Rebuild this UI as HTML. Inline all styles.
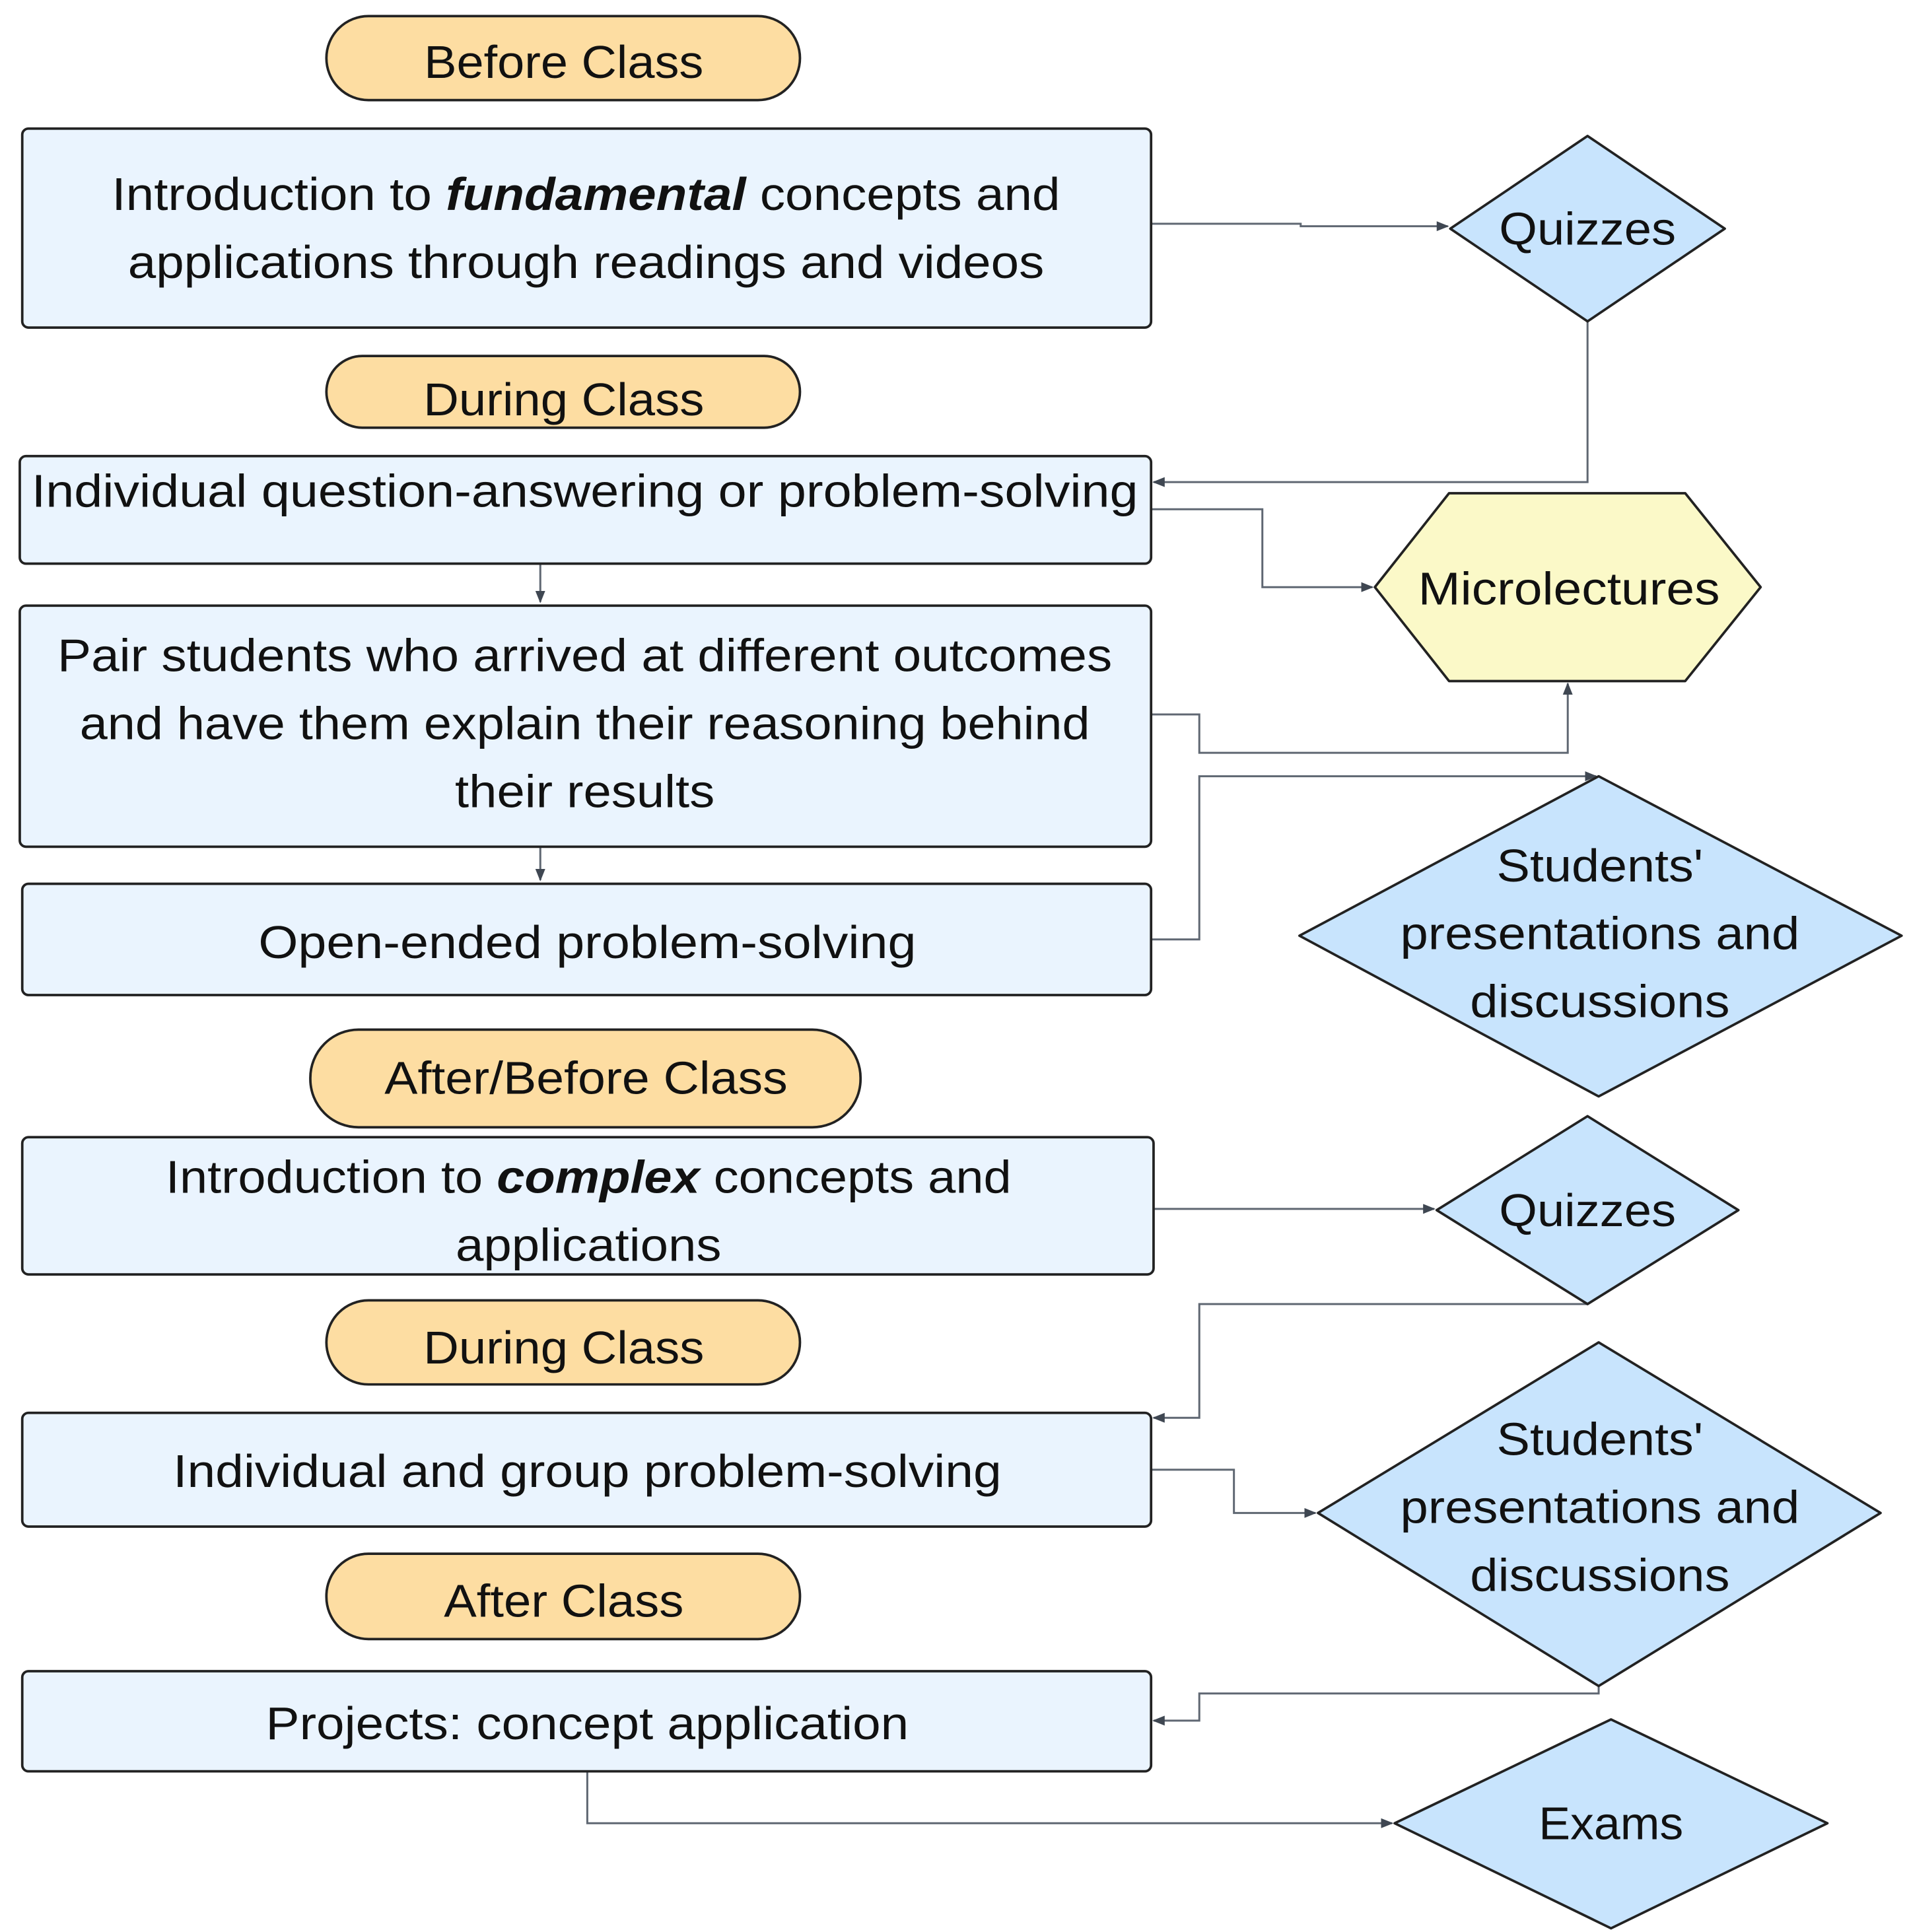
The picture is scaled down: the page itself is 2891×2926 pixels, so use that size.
<!DOCTYPE html>
<html><head><meta charset="utf-8"><style>
html,body{margin:0;padding:0;background:#fff;}
svg{display:block;}
text{font-family:"Liberation Sans",sans-serif;font-size:37px;fill:#111;text-anchor:middle;}
.b{fill:#eaf4fe;stroke:#222;stroke-width:2;}
.p{fill:#fddda2;stroke:#222;stroke-width:2;}
.d{fill:#c8e4fd;stroke:#222;stroke-width:2;stroke-linejoin:round;}
.c{fill:none;stroke:#5f6772;stroke-width:1.6;}
</style></head><body>
<svg width="2891" height="2926" viewBox="0 0 1544 1563" preserveAspectRatio="none" xmlns="http://www.w3.org/2000/svg">
<defs><marker id="a" markerWidth="10" markerHeight="8" refX="9" refY="4" orient="auto" markerUnits="userSpaceOnUse"><path d="M0,0 L10,4 L0,8 z" fill="#3f4752"/></marker></defs>
<path class="c" d="M931,181 H1052 V183 H1171" marker-end="url(#a)"/>
<path class="c" d="M1284,260 V390 H933" marker-end="url(#a)"/>
<path class="c" d="M931,412 H1021 V475 H1110" marker-end="url(#a)"/>
<path class="c" d="M437,456 V487" marker-end="url(#a)"/>
<path class="c" d="M931,578 H970 V609 H1268 V553" marker-end="url(#a)"/>
<path class="c" d="M437,685 V712" marker-end="url(#a)"/>
<path class="c" d="M931,760 H970 V628 H1291" marker-end="url(#a)"/>
<path class="c" d="M933,978 H1160" marker-end="url(#a)"/>
<path class="c" d="M1284,1055 H970 V1147 H933" marker-end="url(#a)"/>
<path class="c" d="M931,1189 H998 V1224 H1064" marker-end="url(#a)"/>
<path class="c" d="M1293,1364 V1370 H970 V1392 H933" marker-end="url(#a)"/>
<path class="c" d="M475,1433 V1475 H1126" marker-end="url(#a)"/>
<rect class="p" x="264" y="13" width="383" height="68" rx="34"/><text x="456" y="63" textLength="226" lengthAdjust="spacingAndGlyphs">Before Class</text>
<rect class="p" x="264" y="288" width="383" height="58" rx="29"/><text x="456" y="336" textLength="227" lengthAdjust="spacingAndGlyphs">During Class</text>
<rect class="p" x="251" y="833" width="445" height="79" rx="39"/><text x="474" y="885" textLength="326" lengthAdjust="spacingAndGlyphs">After/Before Class</text>
<rect class="p" x="264" y="1052" width="383" height="68" rx="34"/><text x="456" y="1103" textLength="227" lengthAdjust="spacingAndGlyphs">During Class</text>
<rect class="p" x="264" y="1257" width="383" height="69" rx="34"/><text x="456" y="1308" textLength="194" lengthAdjust="spacingAndGlyphs">After Class</text>
<rect class="b" x="18" y="104" width="913" height="161" rx="5"/>
<text x="474" y="170" textLength="767" lengthAdjust="spacingAndGlyphs">Introduction to <tspan font-weight="bold" font-style="italic">fundamental</tspan> concepts and</text>
<text x="474" y="225" textLength="741" lengthAdjust="spacingAndGlyphs">applications through readings and videos</text>
<rect class="b" x="16" y="369" width="915" height="87" rx="5"/>
<text x="473" y="410" textLength="895" lengthAdjust="spacingAndGlyphs">Individual question-answering or problem-solving</text>
<rect class="b" x="16" y="490" width="915" height="195" rx="5"/>
<text x="473" y="543" textLength="853" lengthAdjust="spacingAndGlyphs">Pair students who arrived at different outcomes</text>
<text x="473" y="598" textLength="817" lengthAdjust="spacingAndGlyphs">and have them explain their reasoning behind</text>
<text x="473" y="653" textLength="210" lengthAdjust="spacingAndGlyphs">their results</text>
<rect class="b" x="18" y="715" width="913" height="90" rx="5"/>
<text x="475" y="775" textLength="532" lengthAdjust="spacingAndGlyphs">Open-ended problem-solving</text>
<rect class="b" x="18" y="920" width="915" height="111" rx="5"/>
<text x="476" y="965" textLength="684" lengthAdjust="spacingAndGlyphs">Introduction to <tspan font-weight="bold" font-style="italic">complex</tspan> concepts and</text>
<text x="476" y="1020" textLength="215" lengthAdjust="spacingAndGlyphs">applications</text>
<rect class="b" x="18" y="1143" width="913" height="92" rx="5"/>
<text x="475" y="1203" textLength="670" lengthAdjust="spacingAndGlyphs">Individual and group problem-solving</text>
<rect class="b" x="18" y="1352" width="913" height="81" rx="5"/>
<text x="475" y="1407" textLength="520" lengthAdjust="spacingAndGlyphs">Projects: concept application</text>
<polygon class="d" points="1284,110 1395,185 1284,260 1173,185"/><text x="1284" y="198" textLength="143" lengthAdjust="spacingAndGlyphs">Quizzes</text>
<polygon points="1112,475 1172,399 1363,399 1424,475 1363,551 1172,551" fill="#fbf9c8" stroke="#222" stroke-width="2" stroke-linejoin="round"/><text x="1269" y="489" textLength="244" lengthAdjust="spacingAndGlyphs">Microlectures</text>
<polygon class="d" points="1293,628 1538,757 1293,887 1051,757"/>
<text x="1294" y="713" textLength="167" lengthAdjust="spacingAndGlyphs">Students'</text><text x="1294" y="768" textLength="323" lengthAdjust="spacingAndGlyphs">presentations and</text><text x="1294" y="823" textLength="210" lengthAdjust="spacingAndGlyphs">discussions</text>
<polygon class="d" points="1284,903 1406,979 1284,1055 1162,979"/><text x="1284" y="992" textLength="143" lengthAdjust="spacingAndGlyphs">Quizzes</text>
<polygon class="d" points="1293,1086 1521,1224 1293,1364 1066,1224"/>
<text x="1294" y="1177" textLength="167" lengthAdjust="spacingAndGlyphs">Students'</text><text x="1294" y="1232" textLength="323" lengthAdjust="spacingAndGlyphs">presentations and</text><text x="1294" y="1287" textLength="210" lengthAdjust="spacingAndGlyphs">discussions</text>
<polygon class="d" points="1303,1391 1478,1475 1303,1560 1128,1475"/><text x="1303" y="1488" textLength="117" lengthAdjust="spacingAndGlyphs">Exams</text>
</svg>
</body></html>
